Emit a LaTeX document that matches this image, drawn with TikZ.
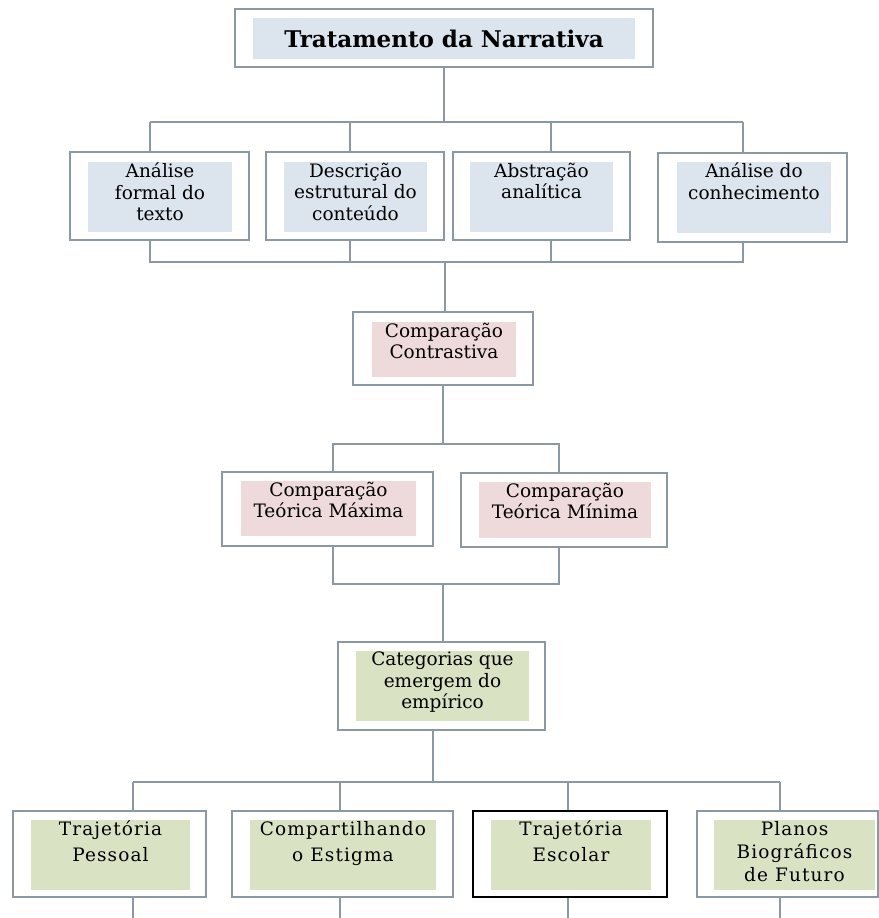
\documentclass[tikz,border=0pt]{standalone}
\usepackage{fontspec}
\setmainfont{DejaVu Serif}
\newfontfamily\espaco[LetterSpace=6]{DejaVu Serif}
\usepackage{xcolor}
\definecolor{linha}{RGB}{140,152,162}
\definecolor{azulfundo}{RGB}{220,228,238}
\definecolor{rosafundo}{RGB}{238,218,218}
\definecolor{verdefundo}{RGB}{218,226,196}

\begin{document}
\begin{tikzpicture}[x=1pt,y=-1pt,
    caixa/.style={draw=linha,line width=1.3,fill=white,inner sep=0},
    fundo/.style={inner sep=0},
    texto/.style={anchor=north,align=center,inner sep=1,
        font=\fontsize{18.5}{21.5}\selectfont},
    liga/.style={draw=linha,line width=1.5}]
    \useasboundingbox (0,0) rectangle (878,918);

    % topo
    \node[caixa,minimum width=418,minimum height=58] (topo) at (444,38) {};
    \node[fundo,fill=azulfundo,minimum width=382,minimum height=41,
        font=\fontsize{23}{25}\selectfont\bfseries] (topoF) at (444,38.5) {Tratamento da Narrativa};

    % segunda linha
    \node[caixa,minimum width=179,minimum height=88] (fa) at (159.5,196) {};
    \node[fundo,fill=azulfundo,minimum width=144,minimum height=70] (faF) at (160,197) {};
    \node[texto] at (faF.north) {Análise\\formal do\\texto};
    \node[caixa,minimum width=178,minimum height=88] (fd) at (355,196) {};
    \node[fundo,fill=azulfundo,minimum width=143,minimum height=70] (fdF) at (355.5,197) {};
    \node[texto] at (fdF.north) {Descrição\\estrutural do\\conteúdo};
    \node[caixa,minimum width=177,minimum height=88] (fb) at (541.5,196) {};
    \node[fundo,fill=azulfundo,minimum width=143,minimum height=70] (fbF) at (541.5,197) {};
    \node[texto] at (fbF.north) {Abstração\\analítica};
    \node[caixa,minimum width=189,minimum height=89] (fc) at (752.5,197.5) {};
    \node[fundo,fill=azulfundo,minimum width=154,minimum height=71] (fcF) at (754,197.5) {};
    \node[texto] at (fcF.north) {Análise do\\conhecimento};

    % comparacao
    \node[caixa,minimum width=180,minimum height=73] (cc) at (443,348.5) {};
    \node[fundo,fill=rosafundo,minimum width=144,minimum height=55] (ccF) at (444,349.5) {};
    \node[texto] at (ccF.north) {Comparação\\Contrastiva};
    \node[caixa,minimum width=211,minimum height=74] (cmax) at (327.5,509) {};
    \node[fundo,fill=rosafundo,minimum width=175,minimum height=55] (cmaxF) at (328.5,508.5) {};
    \node[texto] at (cmaxF.north) {Comparação\\Teórica Máxima};
    \node[caixa,minimum width=206,minimum height=74] (cmin) at (564,510) {};
    \node[fundo,fill=rosafundo,minimum width=172,minimum height=56] (cminF) at (565,510) {};
    \node[texto] at (cminF.north) {Comparação\\Teórica Mínima};

    % categorias
    \node[caixa,minimum width=207,minimum height=88] (cat) at (441.5,686) {};
    \node[fundo,fill=verdefundo,minimum width=173,minimum height=70] (catF) at (442.5,686) {};
    \node[texto] at (catF.north) {Categorias que\\emergem do\\empírico};

    % ultima linha
    \node[caixa,minimum width=193,minimum height=86] (t1) at (109.5,854) {};
    \node[fundo,fill=verdefundo,minimum width=159,minimum height=70] (t1F) at (110.5,855) {};
    \node[texto,font=\fontsize{18.5}{26}\espaco] at (t1F.north) {Trajetória\\Pessoal};
    \node[caixa,minimum width=221,minimum height=86] (t2) at (342.5,854) {};
    \node[fundo,fill=verdefundo,minimum width=186,minimum height=70] (t2F) at (343,855) {};
    \node[texto,font=\fontsize{18.5}{26}\espaco] at (t2F.north) {Compartilhando\\o Estigma};
    \node[caixa,draw=black,line width=1.6,minimum width=194,minimum height=86] (t3) at (570,854) {};
    \node[fundo,fill=verdefundo,minimum width=160,minimum height=70] (t3F) at (571,855) {};
    \node[texto,font=\fontsize{18.5}{26}\espaco] at (t3F.north) {Trajetória\\Escolar};
    \node[caixa,minimum width=181,minimum height=86] (t4) at (787.5,854) {};
    \node[fundo,fill=verdefundo,minimum width=161,minimum height=70] (t4F) at (794.5,855) {};
    \node[texto,font=\fontsize{18.5}{23}\espaco] at (t4F.north) {Planos\\Biográficos\\de Futuro};

    % pontos das ligacoes
    \coordinate (j1) at (150,122);
    \coordinate (j2) at (350,122);
    \coordinate (j3) at (551,122);
    \coordinate (j4) at (743,122);
    \coordinate (m1) at (150,262);
    \coordinate (m2) at (350,262);
    \coordinate (m3) at (551,262);
    \coordinate (m4) at (743,262);
    \coordinate (m0) at (445,262);
    \coordinate (k1) at (333,444);
    \coordinate (k2) at (559,444);
    \coordinate (n1) at (333,584);
    \coordinate (n2) at (559,584);
    \coordinate (n0) at (443,584);
    \coordinate (p1) at (133,782);
    \coordinate (p2) at (340,782);
    \coordinate (p3) at (568,782);
    \coordinate (p4) at (780,782);
    \coordinate (p0) at (433,782);
    \coordinate (q1) at (133,918);
    \coordinate (q2) at (340,918);
    \coordinate (q3) at (568,918);
    \coordinate (q4) at (780,918);

    % ligacoes
    \draw[liga] (topo.south) -- (topo.south |- j1);
    \draw[liga] (j1) -- (j4);
    \draw[liga] (j1) -- (j1 |- fa.north);
    \draw[liga] (j2) -- (j2 |- fd.north);
    \draw[liga] (j3) -- (j3 |- fb.north);
    \draw[liga] (j4) -- (j4 |- fc.north);
    \draw[liga] (m1 |- fa.south) -- (m1) -- (m4) -- (m4 |- fc.south);
    \draw[liga] (m2 |- fd.south) -- (m2);
    \draw[liga] (m3 |- fb.south) -- (m3);
    \draw[liga] (m0) -- (m0 |- cc.north);
    \draw[liga] (cc.south) -- (cc.south |- k1);
    \draw[liga] (k1 |- cmax.north) -- (k1) -- (k2) -- (k2 |- cmin.north);
    \draw[liga] (n1 |- cmax.south) -- (n1) -- (n2) -- (n2 |- cmin.south);
    \draw[liga] (n0) -- (n0 |- cat.north);
    \draw[liga] (p0 |- cat.south) -- (p0);
    \draw[liga] (p1) -- (p4);
    \draw[liga] (p1) -- (p1 |- t1.north);
    \draw[liga] (p2) -- (p2 |- t2.north);
    \draw[liga] (p3) -- (p3 |- t3.north);
    \draw[liga] (p4) -- (p4 |- t4.north);
    \draw[liga] (q1 |- t1.south) -- (q1);
    \draw[liga] (q2 |- t2.south) -- (q2);
    \draw[liga] (q3 |- t3.south) -- (q3);
    \draw[liga] (q4 |- t4.south) -- (q4);
\end{tikzpicture}
\end{document}
